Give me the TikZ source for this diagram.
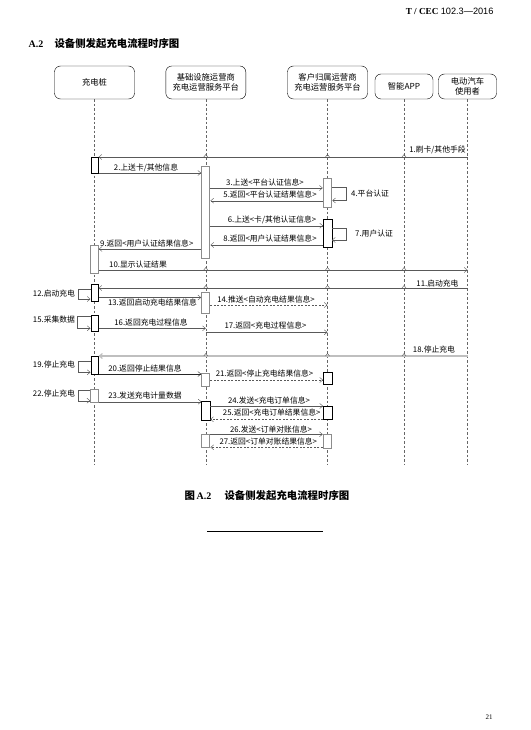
\documentclass[tikz,border=0pt]{standalone}
\usepackage{fontspec}
\setmainfont{Liberation Serif}
\newfontfamily\cjk{Noto Sans CJK SC}
\newfontfamily\hsans{Liberation Sans}
\usetikzlibrary{arrows.meta}

\begin{document}
\begin{tikzpicture}[x=1pt,y=-1pt,
    head/.style={draw,rounded corners=6pt,align=center,inner sep=1pt,
        font=\cjk\fontsize{8.3}{10}\selectfont},
    act/.style={draw,fill=white,minimum width=7.6pt,inner sep=0pt},
    actg/.style={act,draw=black!45,line width=1pt},
    life/.style={draw=black!60,dash pattern=on 2.5pt off 2pt},
    msg/.style={draw=black!65,-{Straight Barb[length=3pt,width=5pt]}},
    dmsg/.style={msg,dash pattern=on 2pt off 1.5pt},
    lbl/.style={font=\cjk\fontsize{7.8}{9}\selectfont,inner sep=0pt}]
\useasboundingbox (0,0) rectangle (530,730);

% page header and section title
\node[anchor=east,font=\fontsize{9.2}{11}\selectfont] (hdr) at (497,11) {\textbf{T / CEC} {\hsans 102.3—2016}};
\node[anchor=west,font=\bfseries\fontsize{10}{12}\selectfont] (sec) at (25,44) {A.2};
\node[anchor=west,font=\cjk\bfseries\fontsize{10.4}{12}\selectfont] (sectitle) at (51,44) {设备侧发起充电流程时序图};

% participants
\node[head,minimum width=80pt,minimum height=33pt] (pile) at (94.5,82.5) {充电桩};
\node[head,minimum width=80pt,minimum height=33pt] (infra) at (205.8,82.5) {基础设施运营商\\充电运营服务平台};
\node[head,minimum width=80pt,minimum height=33pt] (cust) at (327.5,82.5) {客户归属运营商\\充电运营服务平台};
\node[head,minimum width=58pt,minimum height=25pt] (app) at (404,86.5) {智能APP};
\node[head,minimum width=58pt,minimum height=25pt] (user) at (467.5,86.5) {电动汽车\\使用者};

% lifelines
\foreach \p in {pile,infra,cust,app,user}
    \draw[life] (\p.south) -- (\p.south |- 0,465);

% activations
\node[act,minimum height=16pt] (c1) at (94.5,165) {};
\node[actg,minimum height=28pt] (c2) at (94.5,259) {};
\node[act,minimum height=17pt] (c3) at (94.5,292.5) {};
\node[act,minimum height=16pt] (c4) at (94.5,323) {};
\node[act,minimum height=18pt] (c5) at (94.5,365) {};
\node[actg,minimum height=13pt] (c6) at (94.5,395.5) {};
\node[actg,minimum width=8.3pt,minimum height=91pt] (j1) at (205.8,212.5) {};
\node[actg,minimum width=8.3pt,minimum height=21pt] (j2) at (205.8,302.5) {};
\node[actg,minimum width=8.3pt,minimum height=13pt] (j3) at (205.8,379.5) {};
\node[act,minimum width=8.3pt,minimum height=19pt] (j4) at (205.8,410.5) {};
\node[actg,minimum width=8.3pt,minimum height=13pt] (j5) at (205.8,440.5) {};
\node[actg,minimum width=8.5pt,minimum height=28pt] (k1) at (327.5,193) {};
\node[act,minimum width=8.5pt,minimum height=28pt] (k2) at (327.5,233) {};
\node[act,minimum width=8.5pt,minimum height=12pt] (k3) at (327.5,378) {};
\node[act,minimum width=8.5pt,minimum height=13pt] (k4) at (327.5,412.5) {};
\node[actg,minimum width=8.5pt,minimum height=14pt] (k5) at (327.5,441) {};

% messages
\draw[msg] (user |- 0,157) -- (c1.east |- 0,157);
\draw[msg] (c1.east |- 0,173) -- (j1.west |- 0,173);
\draw[msg] (j1.east |- 0,188) -- (k1.west |- 0,188);
\draw[msg] (k1.east |- 0,187) -- (346.5,187) -- (346.5,200.5) -- (k1.east |- 0,200.5);
\draw[msg] (k1.west |- 0,200.7) -- (j1.east |- 0,200.7);
\draw[msg] (j1.east |- 0,225.7) -- (k2.west |- 0,225.7);
\draw[msg] (k2.east |- 0,228) -- (346,228) -- (346,240) -- (k2.east |- 0,240);
\draw[msg] (k2.west |- 0,245) -- (j1.east |- 0,245);
\draw[msg] (j1.west |- 0,249) -- (c2.east |- 0,249);
\draw[msg] (c2.east |- 0,270) -- (user |- 0,270);
\draw[msg] (user |- 0,288) -- (c3.east |- 0,288);
\draw[msg] (c3.west |- 0,289) -- (78.3,289) -- (78.3,299) -- (c3.west |- 0,299);
\draw[msg] (c3.east |- 0,297.5) -- (j2.west |- 0,297.5);
\draw[dmsg] (j2.east |- 0,305) -- (cust |- 0,305);
\draw[msg] (c4.west |- 0,316) -- (77.3,316) -- (77.3,328.3) -- (c4.west |- 0,328.3);
\draw[msg] (c4.east |- 0,328.3) -- (infra |- 0,328.3);
\draw[msg] (infra |- 0,332.3) -- (cust |- 0,332.3);
\draw[msg,draw=black!25,line width=1.2pt] (user |- 0,356) -- (c5.east |- 0,356);
\draw[msg] (c5.west |- 0,360.7) -- (78.3,360.7) -- (78.3,372.3) -- (c5.west |- 0,372.3);
\draw[msg,draw=black!85] (c5.east |- 0,374) -- (j3.west |- 0,374);
\draw[dmsg] (j3.east |- 0,380) -- (k3.west |- 0,380);
\draw[msg] (c6.west |- 0,390) -- (78,390) -- (78,400.7) -- (c6.west |- 0,400.7);
\draw[msg] (c6.east |- 0,401.7) -- (j4.west |- 0,401.7);
\draw[msg] (j4.east |- 0,406) -- (k4.west |- 0,406);
\draw[dmsg] (k4.west |- 0,419.3) -- (j4.east |- 0,419.3);
\draw[msg] (j5.east |- 0,434.3) -- (k5.west |- 0,434.3);
\draw[dmsg] (k5.west |- 0,447.3) -- (j5.east |- 0,447.3);

% small jumps where messages cross lifelines
\foreach \y in {157,270,288,356}
    \foreach \x in {205.8,327.5,404}
        \draw[black!65] (\x-2,\y) -- (\x,\y-2.5) -- (\x+2,\y);

% message labels
\node[lbl] (l1) at (437.5,150) {1.刷卡/其他手段};
\node[lbl] (l2) at (146,167.7) {2.上送卡/其他信息};
\node[lbl] (l3) at (265,182.3) {3.上送<平台认证信息>};
\node[lbl,anchor=west] (l4) at (351,194) {4.平台认证};
\node[lbl] (l5) at (270,194.3) {5.返回<平台认证结果信息>};
\node[lbl] (l6) at (272,220) {6.上送<卡/其他认证信息>};
\node[lbl,anchor=west] (l7) at (355,234) {7.用户认证};
\node[lbl] (l8) at (270,239) {8.返回<用户认证结果信息>};
\node[lbl,anchor=west] (l9) at (100,244) {9.返回<用户认证结果信息>};
\node[lbl,anchor=west] (l10) at (109,265) {10.显示认证结果};
\node[lbl] (l11) at (437.5,283.3) {11.启动充电};
\node[lbl] (l12) at (54,293.3) {12.启动充电};
\node[lbl] (l13) at (152.5,302.3) {13.返回启动充电结果信息};
\node[lbl] (l14) at (266,299.3) {14.推送<自动充电结果信息>};
\node[lbl] (l15) at (54,319.3) {15.采集数据};
\node[lbl] (l16) at (151,322.7) {16.返回充电过程信息};
\node[lbl] (l17) at (265.5,325.7) {17.返回<充电过程信息>};
\node[lbl] (l18) at (434,349.3) {18.停止充电};
\node[lbl] (l19) at (54,365) {19.停止充电};
\node[lbl] (l20) at (145,368.3) {20.返回停止结果信息};
\node[lbl] (l21) at (264.5,373.3) {21.返回<停止充电结果信息>};
\node[lbl] (l22) at (54,393.3) {22.停止充电};
\node[lbl] (l23) at (145,396) {23.发送充电计量数据};
\node[lbl] (l24) at (269,401) {24.发送<充电订单信息>};
\node[lbl] (l25) at (271.7,412.7) {25.返回<充电订单结果信息>};
\node[lbl] (l26) at (271,429.3) {26.发送<订单对账信息>};
\node[lbl] (l27) at (268.3,442) {27.返回<订单对账结果信息>};

% caption, rule and page number
\node[anchor=west,font=\cjk\bfseries\fontsize{10.4}{12}\selectfont] (capfig) at (181,496) {图};
\node[anchor=west,font=\bfseries\fontsize{10}{12}\selectfont] (capnum) at (193,496) {A.2};
\node[anchor=west,font=\cjk\bfseries\fontsize{10.4}{12}\selectfont] (captitle) at (221,496) {设备侧发起充电流程时序图};
\draw[line width=0.8pt] (207,531) -- (323,531);
\node[font=\fontsize{7}{8}\selectfont] (pageno) at (489,717) {21};
\end{tikzpicture}
\end{document}
